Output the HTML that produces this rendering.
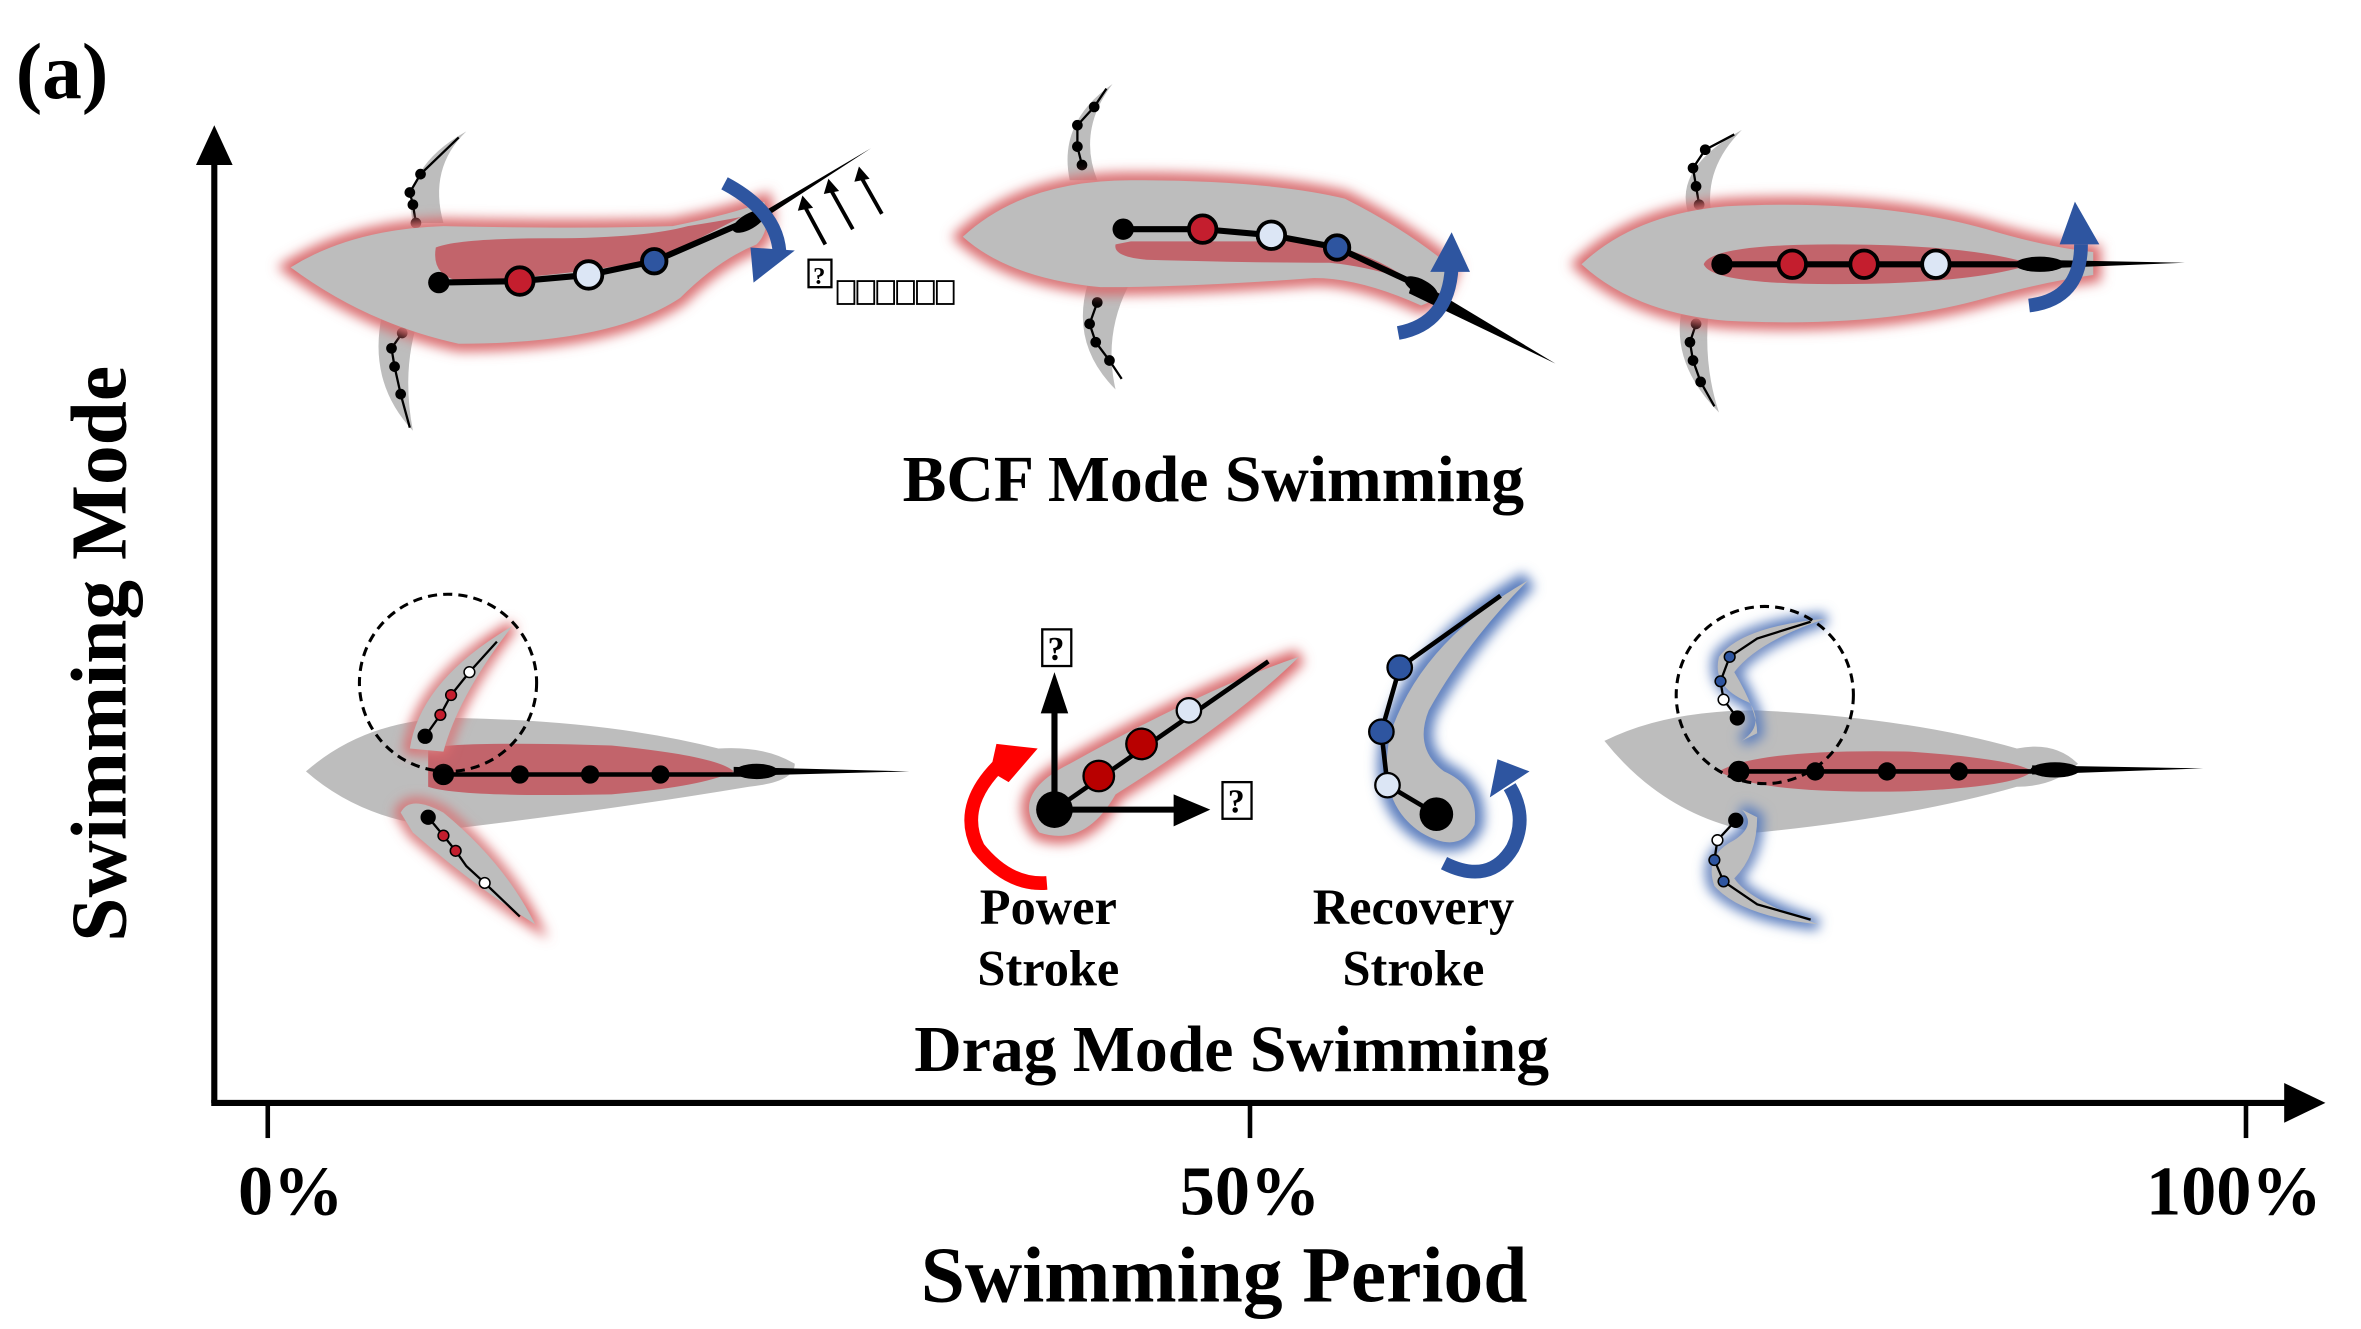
<!DOCTYPE html>
<html><head><meta charset="utf-8"><style>
html,body{margin:0;padding:0;background:#fff;}
svg{display:block;}
text{font-family:"Liberation Serif",serif;font-weight:bold;fill:#000;}
</style></head><body>
<svg width="2361" height="1329" viewBox="0 0 1545 870" xmlns="http://www.w3.org/2000/svg">
<defs>
<filter id="bl" x="-20%" y="-50%" width="140%" height="200%"><feGaussianBlur stdDeviation="4"/></filter>
</defs>

<text x="10" y="64" font-size="52">(a)</text>

<!-- axes -->
<line x1="140" y1="722" x2="140" y2="100" stroke="#000" stroke-width="4"/>
<path d="M128,108 L140,82 L152,108 z"/>
<line x1="138" y1="722" x2="1500" y2="722" stroke="#000" stroke-width="4"/>
<path d="M1495,709 L1522,722 L1495,735 z"/>
<line x1="175" y1="722" x2="175" y2="745" stroke="#000" stroke-width="3"/>
<line x1="818" y1="722" x2="818" y2="745" stroke="#000" stroke-width="3"/>
<line x1="1470" y1="722" x2="1470" y2="745" stroke="#000" stroke-width="3"/>
<text x="190" y="795" font-size="46" text-anchor="middle">0%</text>
<text x="818" y="795" font-size="46" text-anchor="middle">50%</text>
<text x="1462" y="795" font-size="46" text-anchor="middle">100%</text>
<text x="801" y="852" font-size="52" text-anchor="middle">Swimming Period</text>
<text transform="translate(82,428) rotate(-90)" font-size="52" text-anchor="middle">Swimming Mode</text>
<text x="794" y="328" font-size="43" text-anchor="middle">BCF Mode Swimming</text>
<text x="806" y="701" font-size="43" text-anchor="middle">Drag Mode Swimming</text>
<text x="686" y="605" font-size="33" text-anchor="middle">Power</text>
<text x="686" y="645" font-size="33" text-anchor="middle">Stroke</text>
<text x="925" y="605" font-size="33" text-anchor="middle">Recovery</text>
<text x="925" y="645" font-size="33" text-anchor="middle">Stroke</text>

<!-- ===== BCF fish 1 ===== -->
<g>
<path d="M270,146 Q262,110 305,86 Q280,110 290,146 z" fill="#bdbdbd"/>
<path d="M250,205 Q240,250 270,282 Q262,240 275,205 z" fill="#bdbdbd"/>
<polyline points="300,90 275,114 268,126 270,134 272,146" fill="none" stroke="#000" stroke-width="1.5"/>
<g fill="#000"><circle cx="275" cy="114" r="3.5"/><circle cx="268" cy="126" r="3.5"/><circle cx="270" cy="134" r="3.5"/><circle cx="272" cy="146" r="3.5"/>
<circle cx="263" cy="218" r="3.5"/><circle cx="256" cy="228" r="3.5"/><circle cx="258" cy="240" r="3.5"/><circle cx="262" cy="258" r="3.5"/></g>
<polyline points="263,218 256,228 258,240 262,258 268,280" fill="none" stroke="#000" stroke-width="1.5"/>
<path d="M190,175 Q230,150 290,148 Q380,150 440,148 Q480,140 500,132 Q505,150 495,160 Q470,170 445,195 Q400,225 300,225 Q240,212 190,175 z" fill="#bdbdbd" stroke="#d9676b" stroke-width="10" filter="url(#bl)"/>
<path d="M190,175 Q230,150 290,148 Q380,150 440,148 Q480,140 500,132 Q505,150 495,160 Q470,170 445,195 Q400,225 300,225 Q240,212 190,175 z" fill="#bdbdbd"/>
<path d="M285,162 Q300,156 360,156 Q420,156 450,148 Q470,145 485,142 Q450,160 430,170 Q360,182 300,184 Q282,180 285,162 z" fill="#c2646b"/>
<path d="M480,150 L570,97 L495,146 z" fill="#000"/>
<ellipse cx="490" cy="145" rx="12" ry="5" transform="rotate(-30 490 145)"/>
<polyline points="287,185 340,184 385,180 428,171 488,145" fill="none" stroke="#000" stroke-width="4"/>
<circle cx="287" cy="185" r="7"/>
<circle cx="340" cy="184" r="9" fill="#c41e2e" stroke="#000" stroke-width="2.5"/>
<circle cx="385" cy="180" r="9" fill="#dce6f5" stroke="#000" stroke-width="2.5"/>
<circle cx="428" cy="171" r="8" fill="#2e55a0" stroke="#000" stroke-width="2.5"/>
<path d="M474,120 Q508,138 510,165" fill="none" stroke="#2e55a0" stroke-width="9"/>
<path d="M491,162 L520,164 L493,185 z" fill="#2e55a0"/>
<g stroke="#000" stroke-width="2.5"><line x1="540" y1="160" x2="527" y2="136"/><line x1="558" y1="150" x2="544" y2="125"/><line x1="577" y1="140" x2="564" y2="117"/></g>
<g fill="#000"><path d="M522,138 L525,128 L532,136 z"/><path d="M539,127 L542,117 L549,125 z"/><path d="M559,119 L562,109 L569,117 z"/></g>
<rect x="529" y="170" width="15" height="18" fill="#fff" stroke="#000" stroke-width="1.5"/>
<text x="536" y="186" font-size="16" text-anchor="middle">?</text>
<g fill="#fff" stroke="#000" stroke-width="1.2"><rect x="548" y="184" width="11" height="15"/><rect x="561" y="184" width="11" height="15"/><rect x="574" y="184" width="11" height="15"/><rect x="587" y="184" width="11" height="15"/><rect x="600" y="184" width="11" height="15"/><rect x="613" y="184" width="11" height="15"/></g>
</g>

<!-- ===== BCF fish 2 ===== -->
<g>
<path d="M700,118 Q692,80 728,55 Q705,85 718,118 z" fill="#bdbdbd"/>
<path d="M712,185 Q700,225 730,255 Q722,220 738,188 z" fill="#bdbdbd"/>
<g fill="#000"><circle cx="716" cy="70" r="3.5"/><circle cx="705" cy="82" r="3.5"/><circle cx="705" cy="96" r="3.5"/><circle cx="708" cy="108" r="3.5"/>
<circle cx="718" cy="198" r="3.5"/><circle cx="713" cy="212" r="3.5"/><circle cx="717" cy="224" r="3.5"/><circle cx="726" cy="236" r="3.5"/></g>
<polyline points="724,58 716,70 705,82 705,96 708,108" fill="none" stroke="#000" stroke-width="1.5"/>
<polyline points="718,198 713,212 717,224 726,236 734,248" fill="none" stroke="#000" stroke-width="1.5"/>
<path d="M630,155 Q670,118 740,118 Q830,118 880,130 Q920,150 950,175 Q945,195 930,200 Q890,182 860,182 Q780,188 720,188 Q660,182 630,155 z" fill="#bdbdbd" stroke="#d9676b" stroke-width="10" filter="url(#bl)"/>
<path d="M630,155 Q670,118 740,118 Q830,118 880,130 Q920,150 950,175 Q945,195 930,200 Q890,182 860,182 Q780,188 720,188 Q660,182 630,155 z" fill="#bdbdbd"/>
<path d="M730,160 Q728,168 750,170 Q820,172 870,172 Q900,175 925,185 Q890,160 850,158 Q790,158 740,158 z" fill="#c2646b"/>
<path d="M925,182 L1018,238 L922,192 z" fill="#000"/>
<ellipse cx="930" cy="188" rx="12" ry="5" transform="rotate(28 930 188)"/>
<polyline points="735,150 787,150 832,154 875,162 935,190" fill="none" stroke="#000" stroke-width="4"/>
<circle cx="735" cy="150" r="7"/>
<circle cx="787" cy="150" r="9" fill="#c41e2e" stroke="#000" stroke-width="2.5"/>
<circle cx="832" cy="154" r="9" fill="#dce6f5" stroke="#000" stroke-width="2.5"/>
<circle cx="875" cy="162" r="8" fill="#2e55a0" stroke="#000" stroke-width="2.5"/>
<path d="M915,218 Q948,212 950,175" fill="none" stroke="#2e55a0" stroke-width="9"/>
<path d="M936,178 L950,152 L962,178 z" fill="#2e55a0"/>
</g>

<!-- ===== BCF fish 3 ===== -->
<g>
<path d="M1105,140 Q1095,110 1140,85 Q1115,110 1120,140 z" fill="#bdbdbd"/>
<path d="M1100,206 Q1095,240 1125,270 Q1115,240 1118,206 z" fill="#bdbdbd"/>
<g fill="#000"><circle cx="1116" cy="98" r="3.5"/><circle cx="1108" cy="110" r="3.5"/><circle cx="1110" cy="122" r="3.5"/><circle cx="1112" cy="134" r="3.5"/>
<circle cx="1110" cy="212" r="3.5"/><circle cx="1106" cy="224" r="3.5"/><circle cx="1108" cy="236" r="3.5"/><circle cx="1113" cy="250" r="3.5"/></g>
<polyline points="1135,88 1116,98 1108,110 1110,122 1112,134" fill="none" stroke="#000" stroke-width="1.5"/>
<polyline points="1110,212 1106,224 1108,236 1113,250 1122,266" fill="none" stroke="#000" stroke-width="1.5"/>
<path d="M1035,173 Q1070,140 1130,135 Q1230,130 1300,150 Q1340,162 1370,165 L1370,180 Q1340,184 1300,195 Q1230,215 1130,210 Q1070,205 1035,173 z" fill="#bdbdbd" stroke="#d9676b" stroke-width="10" filter="url(#bl)"/>
<path d="M1035,173 Q1070,140 1130,135 Q1230,130 1300,150 Q1340,162 1370,165 L1370,180 Q1340,184 1300,195 Q1230,215 1130,210 Q1070,205 1035,173 z" fill="#bdbdbd"/>
<path d="M1115,173 Q1120,160 1200,160 Q1290,160 1330,173 Q1290,186 1200,186 Q1120,186 1115,173 z" fill="#c2646b"/>
<path d="M1330,170 L1430,172 L1330,176 z" fill="#000"/>
<ellipse cx="1335" cy="173" rx="16" ry="5"/>
<line x1="1127" y1="173" x2="1340" y2="173" stroke="#000" stroke-width="4"/>
<circle cx="1127" cy="173" r="7"/>
<circle cx="1173" cy="173" r="9" fill="#c41e2e" stroke="#000" stroke-width="2.5"/>
<circle cx="1220" cy="173" r="9" fill="#c41e2e" stroke="#000" stroke-width="2.5"/>
<circle cx="1267" cy="173" r="9" fill="#dce6f5" stroke="#000" stroke-width="2.5"/>
<path d="M1328,200 Q1362,196 1362,160" fill="none" stroke="#2e55a0" stroke-width="9"/>
<path d="M1348,160 L1358,132 L1374,160 z" fill="#2e55a0"/>
</g>

<!-- ===== Drag fish 1 ===== -->
<g>
<path d="M200,505 Q240,470 300,470 Q400,472 470,490 Q500,488 520,500 Q520,512 490,515 Q400,530 300,542 Q240,540 200,505 z" fill="#bdbdbd"/>
<path d="M280,490 Q300,485 400,488 Q470,495 480,505 Q460,515 400,520 Q300,522 280,515 z" fill="#c2646b"/>
<ellipse cx="495" cy="505" rx="14" ry="5"/>
<path d="M480,502 L595,505 L480,508 z" fill="#000"/>
<line x1="290" y1="507" x2="500" y2="507" stroke="#000" stroke-width="3"/>
<g fill="#000"><circle cx="290" cy="507" r="7"/><circle cx="340" cy="507" r="6"/><circle cx="386" cy="507" r="6"/><circle cx="432" cy="507" r="6"/></g>
<path d="M268,490 Q275,445 335,410 Q300,455 290,492 z" fill="#bdbdbd" stroke="#d9676b" stroke-width="7" filter="url(#bl)"/>
<path d="M268,490 Q275,445 335,410 Q300,455 290,492 z" fill="#bdbdbd"/>
<polyline points="278,482 288,468 295,455 307,440 325,420" fill="none" stroke="#000" stroke-width="1.5"/>
<circle cx="278" cy="482" r="5"/><circle cx="288" cy="468" r="3.5" fill="#c41e2e" stroke="#000"/><circle cx="295" cy="455" r="3.5" fill="#c41e2e" stroke="#000"/><circle cx="307" cy="440" r="3.5" fill="#fff" stroke="#000"/>
<path d="M262,532 Q268,520 290,532 Q330,565 350,605 Q310,580 270,545 z" fill="#bdbdbd" stroke="#d9676b" stroke-width="7" filter="url(#bl)"/>
<path d="M262,532 Q268,520 290,532 Q330,565 350,605 Q310,580 270,545 z" fill="#bdbdbd"/>
<polyline points="280,535 290,547 298,557 305,567 317,578 340,600" fill="none" stroke="#000" stroke-width="1.5"/>
<circle cx="280" cy="535" r="5"/><circle cx="290" cy="547" r="3.5" fill="#c41e2e" stroke="#000"/><circle cx="298" cy="557" r="3.5" fill="#c41e2e" stroke="#000"/><circle cx="317" cy="578" r="3.5" fill="#fff" stroke="#000"/>
<circle cx="293" cy="447" r="58" fill="none" stroke="#000" stroke-width="2" stroke-dasharray="6,4"/>
</g>

<!-- ===== Power stroke ===== -->
<g>
<path d="M680,545 Q660,520 700,500 Q790,450 850,430 Q810,470 730,520 Q710,555 680,545 z" fill="#bdbdbd" stroke="#d9676b" stroke-width="10" filter="url(#bl)"/>
<path d="M680,545 Q660,520 700,500 Q790,450 850,430 Q810,470 730,520 Q710,555 680,545 z" fill="#bdbdbd"/>
<line x1="690" y1="530" x2="830" y2="433" stroke="#000" stroke-width="3"/>
<circle cx="719" cy="508" r="10" fill="#b80000" stroke="#000" stroke-width="1.5"/>
<circle cx="747" cy="487" r="10" fill="#b80000" stroke="#000" stroke-width="1.5"/>
<circle cx="778" cy="465" r="8" fill="#dce6f5" stroke="#000" stroke-width="1.5"/>
<line x1="690" y1="530" x2="690" y2="465" stroke="#000" stroke-width="4"/>
<path d="M681,467 L690,440 L699,467 z"/>
<line x1="690" y1="530" x2="770" y2="530" stroke="#000" stroke-width="4"/>
<path d="M768,520 L792,530 L768,541 z"/>
<circle cx="690" cy="530" r="12"/>
<rect x="682" y="412" width="19" height="24" fill="#fff" stroke="#000" stroke-width="1.5"/>
<text x="691" y="432" font-size="22" text-anchor="middle">?</text>
<rect x="800" y="512" width="19" height="24" fill="#fff" stroke="#000" stroke-width="1.5"/>
<text x="809" y="532" font-size="22" text-anchor="middle">?</text>
<path d="M660,495 Q625,525 640,555 Q660,580 685,578" fill="none" stroke="#ff0000" stroke-width="9"/>
<path d="M648,505 L652,487 L679,490 L660,512 z" fill="#ff0000"/>
</g>

<!-- ===== Recovery stroke ===== -->
<g>
<path d="M1000,380 Q930,420 910,480 Q900,525 930,545 Q955,560 965,540 Q968,515 945,505 Q925,490 935,465 Q960,420 1000,380 z" fill="#bdbdbd" stroke="#5a7dbd" stroke-width="12" filter="url(#bl)"/>
<path d="M1000,380 Q930,420 910,480 Q900,525 930,545 Q955,560 965,540 Q968,515 945,505 Q925,490 935,465 Q960,420 1000,380 z" fill="#bdbdbd"/>
<polyline points="982,390 916,437 904,479 908,514 940,533" fill="none" stroke="#000" stroke-width="3"/>
<circle cx="916" cy="437" r="8" fill="#2e55a0" stroke="#000" stroke-width="1.5"/>
<circle cx="904" cy="479" r="8" fill="#2e55a0" stroke="#000" stroke-width="1.5"/>
<circle cx="908" cy="514" r="8" fill="#dce6f5" stroke="#000" stroke-width="1.5"/>
<circle cx="940" cy="533" r="11"/>
<path d="M945,565 Q975,580 990,555 Q1000,535 988,515" fill="none" stroke="#2e55a0" stroke-width="9"/>
<path d="M975,522 L980,497 L1001,505 z" fill="#2e55a0"/>
</g>

<!-- ===== Drag fish 3 ===== -->
<g>
<path d="M1050,485 Q1090,465 1150,465 Q1250,470 1320,490 Q1345,485 1360,500 Q1345,515 1320,515 Q1250,535 1150,545 Q1090,535 1050,485 z" fill="#bdbdbd"/>
<path d="M1125,505 Q1150,490 1250,492 Q1320,497 1330,505 Q1320,515 1250,518 Q1150,520 1125,505 z" fill="#c2646b"/>
<ellipse cx="1345" cy="504" rx="16" ry="5"/>
<path d="M1330,501 L1442,503 L1330,507 z" fill="#000"/>
<line x1="1138" y1="505" x2="1340" y2="505" stroke="#000" stroke-width="3"/>
<g fill="#000"><circle cx="1138" cy="505" r="7"/><circle cx="1188" cy="505" r="6"/><circle cx="1235" cy="505" r="6"/><circle cx="1282" cy="505" r="6"/></g>
<path d="M1140,485 Q1155,475 1145,460 Q1120,450 1125,430 Q1140,410 1195,405 Q1150,420 1135,440 Q1150,465 1150,480 z" fill="#bdbdbd" stroke="#5a7dbd" stroke-width="8" filter="url(#bl)"/>
<path d="M1140,485 Q1155,475 1145,460 Q1120,450 1125,430 Q1140,410 1195,405 Q1150,420 1135,440 Q1150,465 1150,480 z" fill="#bdbdbd"/>
<polyline points="1137,470 1128,458 1126,446 1132,430 1150,418 1185,407" fill="none" stroke="#000" stroke-width="1.5"/>
<circle cx="1137" cy="470" r="5"/><circle cx="1128" cy="458" r="3.5" fill="#fff" stroke="#000"/><circle cx="1126" cy="446" r="3.5" fill="#2e55a0" stroke="#000"/><circle cx="1132" cy="430" r="3.5" fill="#2e55a0" stroke="#000"/>
<path d="M1140,530 Q1150,540 1135,550 Q1115,560 1122,580 Q1140,600 1190,605 Q1145,590 1135,575 Q1150,560 1150,535 z" fill="#bdbdbd" stroke="#5a7dbd" stroke-width="8" filter="url(#bl)"/>
<path d="M1140,530 Q1150,540 1135,550 Q1115,560 1122,580 Q1140,600 1190,605 Q1145,590 1135,575 Q1150,560 1150,535 z" fill="#bdbdbd"/>
<polyline points="1136,537 1124,550 1122,563 1128,577 1150,592 1185,602" fill="none" stroke="#000" stroke-width="1.5"/>
<circle cx="1136" cy="537" r="5"/><circle cx="1124" cy="550" r="3.5" fill="#fff" stroke="#000"/><circle cx="1122" cy="563" r="3.5" fill="#2e55a0" stroke="#000"/><circle cx="1128" cy="577" r="3.5" fill="#2e55a0" stroke="#000"/>
<circle cx="1155" cy="455" r="58" fill="none" stroke="#000" stroke-width="2" stroke-dasharray="6,4"/>
</g>
</svg>
</body></html>
